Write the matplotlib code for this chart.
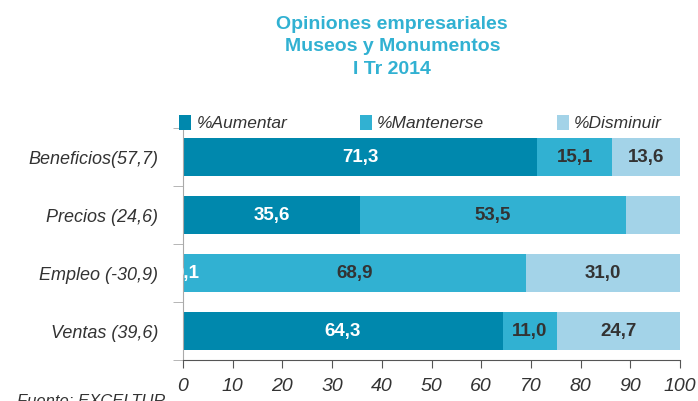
import numpy as np
import matplotlib
matplotlib.use('Agg')
import matplotlib.pyplot as plt

plt.rcParams['font.family'] = ['Liberation Sans', 'DejaVu Sans']

categories = ['Beneficios(57,7)', 'Precios (24,6)', 'Empleo (-30,9)', 'Ventas (39,6)']
aumentar = [71.3, 35.6, 0.1, 64.3]
mantenerse = [15.1, 53.5, 68.9, 11.0]
disminuir = [13.6, 10.9, 31.0, 24.7]
show_label = [[True, True, True], [True, True, False], [True, True, True], [True, True, True]]
series_names = ['%Aumentar', '%Mantenerse', '%Disminuir']
colors = ['#0088AD', '#31B1D2', '#A3D3E8']
text_colors = ['white', '#333333', '#333333']

fig = plt.figure(figsize=(6.98, 4.01), dpi=100)
ax = fig.add_axes([0.2622, 0.1022, 0.712, 0.5786])

y = np.arange(len(categories))
left = np.zeros(len(categories))
for k, vals in enumerate([aumentar, mantenerse, disminuir]):
    vals = np.array(vals)
    ax.barh(y, vals, left=left, height=0.67, color=colors[k], label=series_names[k])
    for i in range(len(categories)):
        if show_label[i][k]:
            # tiny segments: label sits half clipped at the axis edge like in Excel
            xc = left[i] + vals[i] / 2 if vals[i] > 1 else left[i] + 0.7
            ax.text(xc, y[i], '{:.1f}'.format(vals[i]).replace('.', ','),
                    ha='center', va='center', fontsize=13.5, fontweight='bold',
                    color=text_colors[k], clip_on=True)
    left += vals

ax.set_xlim(0, 100)
ax.set_ylim(len(categories) - 0.5, -0.5)
ax.set_xticks(np.arange(0, 101, 10))
ax.set_xticklabels([str(v) for v in range(0, 101, 10)], fontsize=14, style='italic', color='#333333')
ax.set_yticks(y)
ax.set_yticklabels(categories, fontsize=13, style='italic', color='#333333')
ax.set_yticks(np.arange(-0.5, len(categories), 1), minor=True)
ax.tick_params(axis='y', which='major', length=0, pad=18)
ax.tick_params(axis='y', which='minor', length=7, color='#aaaaaa')
ax.tick_params(axis='x', length=6, color='#555555', pad=7)
for s in ['top', 'right']:
    ax.spines[s].set_visible(False)
ax.spines['left'].set_color('#aaaaaa')
ax.spines['bottom'].set_color('#555555')

leg = ax.legend(loc='lower left', bbox_to_anchor=(-0.022, 0.955, 1.0, 0.1), ncol=3, mode='expand',
                frameon=False, prop={'size': 12.5, 'style': 'italic'}, handlelength=0.7,
                handleheight=0.9, handletextpad=0.3, borderaxespad=0)
for t in leg.get_texts():
    t.set_color('#333333')

fig.text(0.562, 0.883, 'Opiniones empresariales\nMuseos y Monumentos\nI Tr 2014', ha='center', va='center',
         fontsize=14, fontweight='bold', color='#31B1D2', linespacing=1.4)
fig.text(0.025, 0.0, 'Fuente: EXCELTUR', fontsize=12, style='italic', color='#333333', va='center')

fig.savefig('out.png', dpi=100)
